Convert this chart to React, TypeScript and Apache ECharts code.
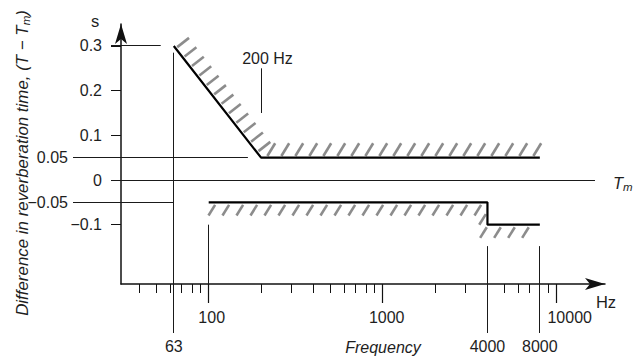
import React, { useEffect, useRef } from 'react';
import * as echarts from 'echarts';

// ---- axis extents (Hz, log scale / seconds) ----
const X_MIN = 31.33;
const X_MAX = 18950;
const Y_MIN = -0.2328;
const Y_MAX = 0.3492;

// ---- tolerance limits (frequency Hz, T - Tm in s) ----
const upperLimit: [number, number][] = [[63, 0.3], [200, 0.05], [8000, 0.05]];
const lowerLimit: [number, number][] = [[100, -0.05], [4000, -0.05], [4000, -0.1], [8000, -0.1]];

// ---- tick values ----
const yTickValues = [0.3, 0.2, 0.1, -0.1];
const yLabelValues = [0.3, 0.2, 0.1, 0, -0.1];
const yGuideLabels = [0.05, -0.05];
const xMajor = [100, 1000, 10000];
const xMinor = [40, 50, 60, 70, 80, 90, 200, 300, 400, 500, 600, 700, 800, 900, 2000, 3000, 5000, 6000, 7000, 9000];
const xMarked = [63, 4000, 8000];

// ---- guide lines ----
const hGuideLevels = [0.3, 0.05, 0, -0.05];
const hGuideEndsHz = [53, 168, 16600, 63];
const vGuideFreqs = [63, 100, 4000, 8000];
const vGuideTops = [0.285, -0.1, -0.148, -0.148];
const noteFreq = 200;
const noteText = '200 Hz';
const noteSpan = [0.25, 0.15];

const FONT = '"Liberation Sans", Arial, Helvetica, sans-serif';
const TXT = '#1e1e1e';
const AX = '#111';
const THIN = '#1a1a1a';
const HATCH = '#8c8c8c';
const LABEL_SIZE = 16;

const minus = (v: number) => (v < 0 ? '\u2212' : '') + String(Math.abs(Math.round(v * 1000) / 1000));
const crisp = (v: number) => Math.round(v - 0.5) + 0.5;

type HatchCfg = { side: 'up' | 'down'; dir: [number, number]; gap: number; len: number; flatStep: number; slopeStep: number; start: number; endPad: number };

function hatch(api: any, pts: [number, number][], cfg: HatchCfg) {
  const px = pts.map((p) => api.coord(p));
  const out: any[] = [];
  let offset = cfg.start;
  for (let i = 0; i < px.length - 1; i++) {
    const [ax, ay] = px[i];
    const [bx, by] = px[i + 1];
    const L = Math.hypot(bx - ax, by - ay);
    if (L < 1e-6) continue;
    const tx = (bx - ax) / L;
    const ty = (by - ay) / L;
    const aligned = Math.abs(tx) < 1e-3 || Math.abs(ty) < 1e-3;
    const nx = cfg.side === 'up' ? ty : -ty;
    const ny = cfg.side === 'up' ? -tx : tx;
    const dx = aligned ? cfg.dir[0] : nx;
    const dy = aligned ? cfg.dir[1] : ny;
    const step = aligned ? cfg.flatStep : cfg.slopeStep;
    const last = i === px.length - 2;
    let s = offset;
    while (s <= L - (last ? cfg.endPad : 0)) {
      const bxp = ax + tx * s;
      const byp = ay + ty * s;
      out.push({
        type: 'line',
        shape: { x1: bxp + dx * cfg.gap, y1: byp + dy * cfg.gap, x2: bxp + dx * (cfg.gap + cfg.len), y2: byp + dy * (cfg.gap + cfg.len) },
        style: { stroke: HATCH, lineWidth: 2.6, lineCap: 'butt' },
      });
      s += step;
    }
    offset = Math.max(s - L, 0);
  }
  return out;
}

const upperHatch: HatchCfg = { side: 'up', dir: [0.52, -0.85], gap: 2, len: 15, flatStep: 14, slopeStep: 12, start: 3, endPad: 7 };
const lowerHatch: HatchCfg = { side: 'down', dir: [-0.53, 0.85], gap: 3, len: 12.5, flatStep: 14, slopeStep: 12, start: 8, endPad: 0 };

export default function App() {
  const ref = useRef<HTMLDivElement>(null);
  useEffect(() => {
    document.body.style.margin = '0';
    const chart = echarts.init(ref.current!, null, { renderer: 'svg' });

    const lineSt = { stroke: THIN, lineWidth: 1 };
    const guideItem = (_p: any, api: any) => {
      const children: any[] = [];
      const axisXpx = api.coord([X_MIN, 0])[0];
      const axisYpx = api.coord([100, Y_MIN])[1];
      hGuideLevels.forEach((lv, i) => {
        const y = crisp(api.coord([100, lv])[1]);
        const far = yGuideLabels.includes(lv);
        const x0 = axisXpx - (far ? 48 : 10);
        const x1 = api.coord([hGuideEndsHz[i], lv])[0];
        children.push({ type: 'line', shape: { x1: x0, y1: y, x2: x1, y2: y }, style: lineSt });
      });
      vGuideFreqs.forEach((f, i) => {
        const x = crisp(api.coord([f, 0])[0]);
        const y0 = api.coord([f, vGuideTops[i]])[1];
        const y1 = xMarked.includes(f) ? axisYpx + 49 : axisYpx;
        children.push({ type: 'line', shape: { x1: x, y1: y0, x2: x, y2: y1 }, style: lineSt });
      });
      const nx = crisp(api.coord([noteFreq, 0])[0]);
      const ny0 = api.coord([noteFreq, noteSpan[0]])[1];
      const ny1 = api.coord([noteFreq, noteSpan[1]])[1];
      children.push({ type: 'line', shape: { x1: nx, y1: ny0, x2: nx, y2: ny1 }, style: lineSt });
      children.push({
        type: 'text', x: nx + 6, y: ny0 - 10,
        style: { text: noteText, fill: TXT, font: `${LABEL_SIZE}px ${FONT}`, align: 'center', verticalAlign: 'middle' },
      });
      return { type: 'group', children };
    };

    const baseX: any = {
      type: 'log', logBase: 10, min: X_MIN, max: X_MAX, position: 'bottom',
      splitLine: { show: false }, minorTick: { show: false }, minorSplitLine: { show: false },
    };
    const labelFont = { color: TXT, fontSize: LABEL_SIZE, fontFamily: FONT };
    const shiftKeys = ['a', 'b', 'c'];

    const option: any = {
      animation: false,
      backgroundColor: '#fff',
      grid: { left: 121, top: 24, width: 484, height: 260, containLabel: false, outerBoundsMode: 'none' },
      xAxis: [
        {
          ...baseX,
          axisLine: { show: true, onZero: false, symbol: ['none', 'arrow'], symbolSize: [9, 20], lineStyle: { color: AX, width: 1.5 } },
          axisTick: { show: true, customValues: xMajor, length: 19, lineStyle: { color: AX, width: 1.2 } },
          axisLabel: {
            show: true, customValues: xMajor, margin: 25, ...labelFont,
            formatter: (v: number) => {
              const r = Math.round(v);
              const k = shiftKeys[xMajor.indexOf(r)] || 'a';
              return `{${k}|${r}}`;
            },
            rich: {
              a: { ...labelFont, padding: [0, 0, 0, 6] },
              b: { ...labelFont, padding: [0, 0, 0, 8] },
              c: { ...labelFont, padding: [0, 0, 0, 26] },
            },
          },
        },
        {
          ...baseX,
          axisLine: { show: false, onZero: false },
          axisTick: { show: true, customValues: xMinor, length: 9, lineStyle: { color: AX, width: 1 } },
          axisLabel: { show: false },
        },
        {
          ...baseX,
          axisLine: { show: false, onZero: false },
          axisTick: { show: false },
          axisLabel: { show: true, customValues: xMarked, margin: 54, ...labelFont, formatter: (v: number) => String(Math.round(v)) },
        },
      ],
      yAxis: [
        {
          type: 'value', min: Y_MIN, max: Y_MAX, position: 'left', splitLine: { show: false },
          axisLine: { show: true, onZero: false, symbol: ['none', 'arrow'], symbolSize: [9, 20], lineStyle: { color: AX, width: 1.5 } },
          axisTick: { show: true, customValues: yTickValues, length: 10, lineStyle: { color: AX, width: 1 } },
          axisLabel: { show: true, customValues: yLabelValues, margin: 19, ...labelFont, formatter: minus },
        },
        {
          type: 'value', min: Y_MIN, max: Y_MAX, position: 'left', splitLine: { show: false },
          axisLine: { show: false, onZero: false },
          axisTick: { show: false },
          axisLabel: { show: true, customValues: yGuideLabels, margin: 53, ...labelFont, formatter: minus },
        },
      ],
      series: [
        {
          type: 'custom', coordinateSystem: 'cartesian2d', xAxisIndex: 0, yAxisIndex: 0, clip: false, silent: true, z: 2,
          data: [[100, 0]], renderItem: guideItem,
        },
        {
          type: 'custom', coordinateSystem: 'cartesian2d', xAxisIndex: 0, yAxisIndex: 0, clip: false, silent: true, z: 1,
          data: [[100, 0]], renderItem: (_p: any, api: any) => ({ type: 'group', children: hatch(api, upperLimit, upperHatch) }),
        },
        {
          type: 'custom', coordinateSystem: 'cartesian2d', xAxisIndex: 0, yAxisIndex: 0, clip: false, silent: true, z: 1,
          data: [[100, 0]], renderItem: (_p: any, api: any) => ({ type: 'group', children: hatch(api, lowerLimit, lowerHatch) }),
        },
        {
          type: 'line', xAxisIndex: 0, yAxisIndex: 0, data: upperLimit, symbol: 'none', silent: true, z: 5,
          lineStyle: { color: '#000', width: 2.2 },
        },
        {
          type: 'line', xAxisIndex: 0, yAxisIndex: 0, data: lowerLimit, symbol: 'none', silent: true, z: 5,
          lineStyle: { color: '#000', width: 2.2 },
        },
      ],
      graphic: [
        { type: 'text', x: 95, y: 21, style: { text: 's', fill: TXT, font: `16.5px ${FONT}`, align: 'center', verticalAlign: 'middle' } },
        { type: 'text', x: 606, y: 302, style: { text: 'Hz', fill: TXT, font: `16.5px ${FONT}`, align: 'center', verticalAlign: 'middle' } },
        {
          type: 'text', x: 613, y: 183,
          style: {
            text: '{i|T}{s|m}', align: 'left', verticalAlign: 'middle',
            rich: {
              i: { font: `italic 16.5px ${FONT}`, fill: TXT, lineHeight: 20 },
              s: { font: `italic 11.5px ${FONT}`, fill: TXT, lineHeight: 12, verticalAlign: 'bottom' },
            },
          },
        },
        { type: 'text', x: 383, y: 347, style: { text: 'Frequency', fill: TXT, font: `italic 16px ${FONT}`, align: 'center', verticalAlign: 'middle' } },
        {
          type: 'text', x: 22, y: 163, rotation: Math.PI / 2,
          style: {
            text: '{i|Difference in reverberation time, (T \u2212 T}{s|m}{i|)}', align: 'center', verticalAlign: 'middle',
            rich: {
              i: { font: `italic 16.9px ${FONT}`, fill: TXT, lineHeight: 20 },
              s: { font: `italic 11.5px ${FONT}`, fill: TXT, lineHeight: 12, verticalAlign: 'bottom' },
            },
          },
        },
      ],
    };
    chart.setOption(option);
    return () => chart.dispose();
  }, []);
  return <div ref={ref} style={{ width: 635, height: 356 }} />;
}
